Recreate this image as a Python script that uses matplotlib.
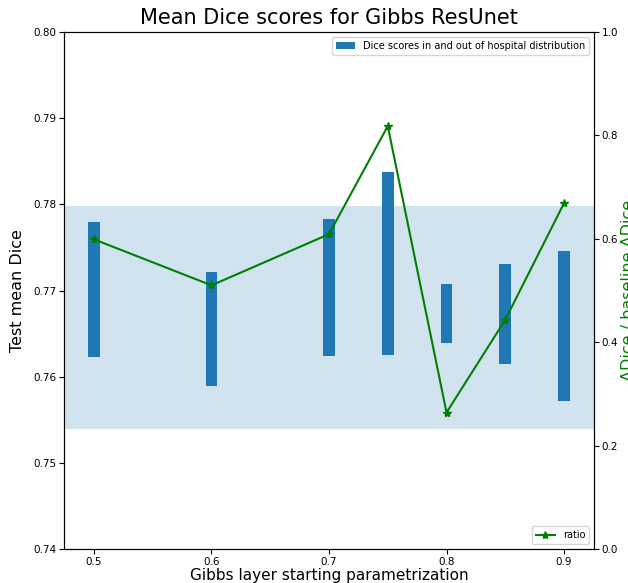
import numpy as np
import matplotlib.pyplot as plt

# Gibbs layer starting parametrization
params = [0.5, 0.6, 0.7, 0.75, 0.8, 0.85, 0.9]
# Dice scores (out of / in hospital distribution)
dice_low = [0.7623, 0.7589, 0.7624, 0.7625, 0.7639, 0.7615, 0.7572]
dice_high = [0.7779, 0.7721, 0.7783, 0.7837, 0.7708, 0.7731, 0.7746]
# baseline band
base_low, base_high = 0.7539, 0.7798
# ratio dDice / baseline dDice
ratio = [0.599, 0.510, 0.609, 0.818, 0.264, 0.4435, 0.669]

fig = plt.figure(figsize=(6.28, 5.83), dpi=100)
ax = fig.add_axes([0.1019, 0.0583, 0.844, 0.8868])

heights = np.array(dice_high) - np.array(dice_low)
ax.axhspan(base_low, base_high, color="C0", alpha=0.2, lw=0)
ax.bar(params, heights, bottom=dice_low, width=0.01, color="C0",
       label="Dice scores in and out of hospital distribution")
ax.set_ylim(0.74, 0.80)
ax.set_yticks([0.74, 0.75, 0.76, 0.77, 0.78, 0.79, 0.80])
ax.set_xticks([0.5, 0.6, 0.7, 0.8, 0.9])
ax.tick_params(labelsize=7.5, pad=2)
ax.set_xlabel("Gibbs layer starting parametrization", fontsize=11, labelpad=1)
ax.set_ylabel("Test mean Dice", fontsize=11.5, labelpad=6)
ax.set_title("Mean Dice scores for Gibbs ResUnet", fontsize=15)
ax.legend(loc="upper right", fontsize=7)

ax2 = ax.twinx()
ax2.plot(params, ratio, color="green", marker="*", label="ratio")
ax2.set_ylim(0, 1)
ax2.tick_params(labelsize=7.5, pad=2)
ax2.set_ylabel("ΔDice / baseline ΔDice", color="green", fontsize=11.5, labelpad=2)
ax2.legend(loc="lower right", fontsize=7)

plt.savefig("out.png", dpi=100)
